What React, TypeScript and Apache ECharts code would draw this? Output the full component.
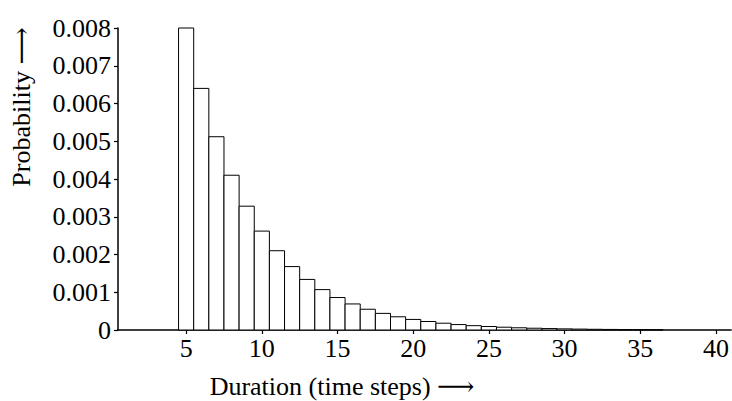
import React, { useEffect, useRef } from "react";
import * as echarts from "echarts";

const durations = [5, 6, 7, 8, 9, 10, 11, 12, 13, 14, 15, 16, 17, 18, 19, 20, 21, 22, 23, 24, 25, 26, 27, 28, 29, 30, 31, 32, 33, 34, 35, 36];
const probabilities = [
  0.008, 0.0064, 0.00512, 0.0041, 0.00328, 0.00262, 0.0021, 0.00168, 0.00134, 0.00107,
  0.00086, 0.00069, 0.00055, 0.00044, 0.00035, 0.00028, 0.000225, 0.00018, 0.000144, 0.000115,
  0.000092, 0.000074, 0.000059, 0.000047, 0.000038, 0.00003, 0.000024, 0.000019, 0.000015, 0.000012,
  0.00001, 0.000008,
];
const xTicks = [5, 10, 15, 20, 25, 30, 35, 40];
const xTitle = "Duration (time steps) \u27F6";
const yTitle = "Probability \u27F6";

const FONT = "'Liberation Serif', 'DejaVu Serif', serif";

export default function App() {
  const ref = useRef<HTMLDivElement>(null);
  useEffect(() => {
    if (!ref.current) return;
    const chart = echarts.init(ref.current, null, { renderer: "svg" });
    const data = durations.map((d, i) => [d, probabilities[i]]);
    chart.setOption({
      animation: false,
      backgroundColor: "#ffffff",
      grid: { left: 118, right: 0, top: 28, bottom: 71, containLabel: false },
      xAxis: {
        type: "value",
        min: 0.5,
        max: 41,
        interval: 5,
        axisLine: { show: true, onZero: false, lineStyle: { color: "#000", width: 1.5 } },
        axisTick: {
          show: true,
          length: 4,
          lineStyle: { color: "#000", width: 1.2 },
          customValues: xTicks,
        },
        axisLabel: {
          show: true,
          margin: 5,
          color: "#000",
          fontFamily: FONT,
          fontSize: 26,
          customValues: xTicks,
        },
        splitLine: { show: false },
      },
      yAxis: {
        type: "value",
        min: 0,
        max: 0.008,
        interval: 0.001,
        axisLine: { show: true, lineStyle: { color: "#000", width: 1.5 } },
        axisTick: { show: true, length: 4, lineStyle: { color: "#000", width: 1.2 } },
        axisLabel: {
          margin: 7,
          color: "#000",
          fontFamily: FONT,
          fontSize: 26,
          formatter: (v: number) => (v === 0 ? "0" : v.toFixed(3)),
        },
        splitLine: { show: false },
      },
      series: [
        {
          type: "custom",
          data,
          renderItem: (params: any, api: any) => {
            const x = api.value(0);
            const y = api.value(1);
            const p1 = api.coord([x - 0.5, y]);
            const p2 = api.coord([x + 0.5, 0]);
            return {
              type: "rect",
              shape: { x: p1[0], y: p1[1], width: p2[0] - p1[0], height: p2[1] - p1[1] },
              style: { fill: "#ffffff", stroke: "#000000", lineWidth: 1 },
            };
          },
          encode: { x: 0, y: 1 },
          z: 1,
        },
      ],
      graphic: [
        {
          type: "text",
          x: 342,
          y: 386,
          style: {
            text: xTitle,
            fontFamily: FONT,
            fontSize: 26,
            fill: "#000",
            align: "center",
            verticalAlign: "middle",
          },
        },
        {
          type: "text",
          x: 21,
          y: 107,
          rotation: Math.PI / 2,
          style: {
            text: yTitle,
            fontFamily: FONT,
            fontSize: 26,
            fill: "#000",
            align: "center",
            verticalAlign: "middle",
          },
        },
      ],
    });
    return () => chart.dispose();
  }, []);
  return (
    <div
      ref={ref}
      style={{ position: "absolute", left: 0, top: 0, width: 732, height: 401 }}
    />
  );
}
